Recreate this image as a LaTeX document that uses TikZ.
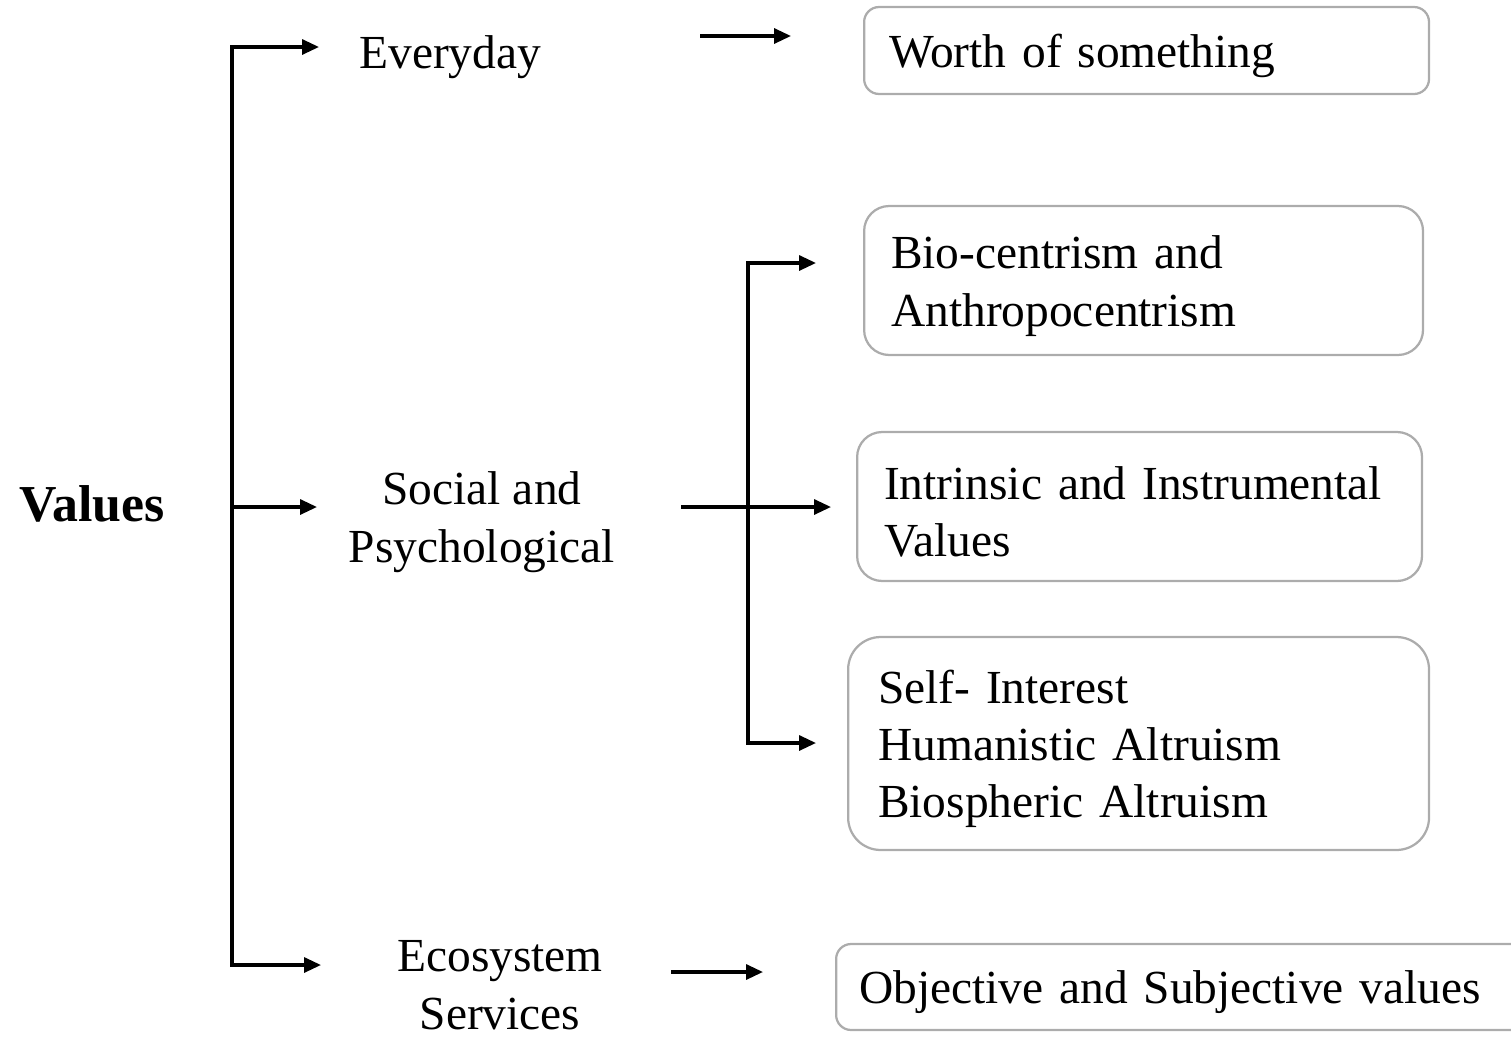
\documentclass[tikz,border=0pt]{standalone}
\usepackage{fontspec}
\setmainfont{Liberation Serif}
\usetikzlibrary{arrows.meta}

\begin{document}
\begin{tikzpicture}[x=0.02cm, y=-0.02cm,
        txt/.style={inner sep=0pt, font=\fontsize{27}{32.7}\selectfont},
        arr/.style={line width=0.065cm, line cap=rect, -{Triangle[length=0.34cm,width=0.3cm]}},
        box/.style={draw=gray!65, line width=0.045cm, rounded corners=#1, anchor=west,
            align=left, inner xsep=0.5cm, inner ysep=0pt,
            font=\fontsize{27}{32.7}\selectfont,
            execute at begin node=\rule{0pt}{0.88cm}}]
        \useasboundingbox (0,0) rectangle (1511,1038);

        % left column
        \node[txt, font=\fontsize{29.5}{33}\selectfont\bfseries] (values) at (92,504) {Values};
        \node[txt, anchor=base west] (everyday) at (359,68) {Everyday};
        \node[txt, anchor=base, align=center] (social) at (482,562) {Social and\\Psychological};
        \node[txt, anchor=base, align=center] (eco) at (500,1029) {Ecosystem\\Services};

        % boxes on the right
        \node[box=0.3cm, minimum width=11.3cm, minimum height=1.74cm, text width=10.3cm]
            (worth) at (863,50.5) {Worth of something};
        \node[box=0.5cm, inner xsep=0.54cm, minimum width=11.18cm, minimum height=2.98cm, text width=10.1cm]
            (bio) at (863,280.5) {Bio-centrism and\\Anthropocentrism};
        \node[box=0.5cm, inner xsep=0.54cm, minimum width=11.3cm, minimum height=2.98cm, text width=10.22cm]
            (intr) at (856,506.5) {Intrinsic and Instrumental\\Values};
        \node[box=0.65cm, inner xsep=0.6cm, minimum width=11.62cm, minimum height=4.26cm, text width=10.42cm]
            (self) at (847,743.5) {Self- Interest\\Humanistic Altruism\\Biospheric Altruism};
        \node[box=0.3cm, inner xsep=0.46cm, minimum width=13.8cm, minimum height=1.72cm, text width=12.88cm]
            (obj) at (835,987) {Objective and Subjective values};

        % bracket from Values
        \coordinate (vtop) at (232,47);
        \coordinate (vmid) at (232,507);
        \coordinate (vbot) at (232,965);
        \coordinate (tevery) at (319,47);
        \coordinate (tsocial) at (317,507);
        \coordinate (teco) at (321,965);
        \draw[arr] (vbot) -- (vtop) -- (tevery);
        \draw[arr] (vmid) -- (tsocial);
        \draw[arr] (vbot) -- (teco);

        % bracket from Social and Psychological
        \coordinate (sfrom) at (683,507);
        \coordinate (stop) at (748,263);
        \coordinate (sbot) at (748,743);
        \coordinate (tbio) at (816,263);
        \coordinate (tintr) at (831,507);
        \coordinate (tself) at (816,743);
        \draw[arr] (sbot) -- (stop) -- (tbio);
        \draw[arr] (sbot) -- (tself);
        \draw[arr] (sfrom) -- (tintr);

        % single arrows
        \coordinate (efrom) at (702,36);
        \coordinate (eto) at (791,36);
        \coordinate (ofrom) at (673,972);
        \coordinate (oto) at (763,972);
        \draw[arr] (efrom) -- (eto);
        \draw[arr] (ofrom) -- (oto);
\end{tikzpicture}
\end{document}
